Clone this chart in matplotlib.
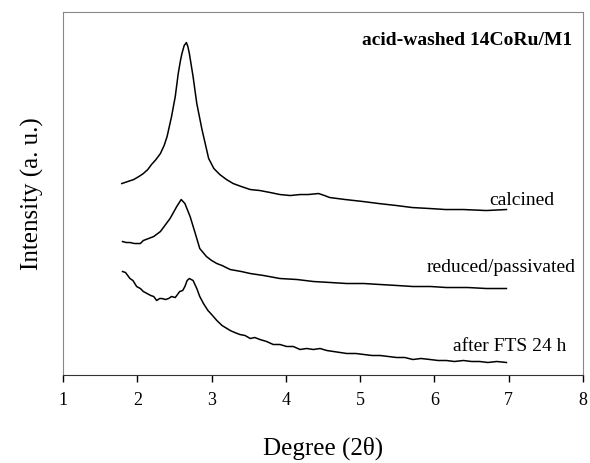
import numpy as np
import matplotlib
matplotlib.use('Agg')
import matplotlib.pyplot as plt

plt.rcParams['font.family'] = ['Liberation Serif', 'DejaVu Serif']

# XRD patterns (arbitrary intensity units)
calc_x = [1.79, 1.87, 1.95, 2.02, 2.08, 2.14, 2.19, 2.25, 2.31, 2.36, 2.40, 2.46,
          2.51, 2.55, 2.58, 2.60, 2.63, 2.66, 2.68, 2.70, 2.75, 2.80, 2.87, 2.96,
          3.03, 3.11, 3.20, 3.29, 3.40, 3.52, 3.65, 3.79, 3.92, 4.06, 4.19, 4.30,
          4.44, 4.52, 4.59, 4.80, 5.04, 5.25, 5.49, 5.70, 5.94, 6.15, 6.39, 6.70,
          6.97]
calc_y = [192, 194, 196, 199, 202, 206, 211, 216, 222, 230, 239, 259,
          279, 302, 315, 322, 330, 333, 329, 322, 299, 272, 246, 217,
          207, 201, 196, 192, 189, 186, 185, 183, 181, 180, 181, 181,
          182, 180, 178, 176, 174, 172, 170, 168, 167, 166, 166, 165,
          166]

red_x = [1.80, 1.85, 1.90, 1.96, 2.04, 2.08, 2.15, 2.22, 2.31, 2.37, 2.44, 2.53,
         2.59, 2.64, 2.71, 2.78, 2.84, 2.93, 3.00, 3.07, 3.14, 3.25, 3.40, 3.52,
         3.70, 3.92, 4.15, 4.37, 4.60, 4.82, 5.05, 5.27, 5.50, 5.71, 5.95, 6.16,
         6.45, 6.70, 6.97]
red_y = [134, 133, 133, 132, 132, 135, 137, 139, 144, 150, 157, 169,
         176, 172, 159, 142, 127, 119, 115, 112, 110, 106, 104, 102,
         100, 97, 96, 94, 93, 92, 92, 91, 90, 89, 89, 88,
         88, 87, 87]

fts_x = [1.80, 1.84, 1.90, 1.94, 1.99, 2.04, 2.08, 2.13, 2.18, 2.22, 2.26, 2.30,
         2.33, 2.38, 2.42, 2.46, 2.51, 2.57, 2.61, 2.64, 2.67, 2.70, 2.75, 2.80,
         2.84, 2.89, 2.95, 3.00, 3.07, 3.14, 3.25, 3.31, 3.38, 3.45, 3.52, 3.58,
         3.65, 3.74, 3.83, 3.92, 4.01, 4.10, 4.19, 4.28, 4.37, 4.46, 4.55, 4.64,
         4.73, 4.82, 4.94, 5.05, 5.16, 5.27, 5.38, 5.49, 5.60, 5.71, 5.82, 5.94,
         6.05, 6.16, 6.27, 6.39, 6.50, 6.61, 6.72, 6.84, 6.97]
fts_y = [104, 103, 97, 95, 89, 87, 84, 82, 80, 79, 75, 77,
         77, 76, 77, 79, 78, 84, 85, 89, 95, 97, 95, 87,
         79, 72, 65, 61, 55, 50, 45, 43, 41, 40, 37, 38,
         36, 34, 31, 31, 29, 29, 26, 27, 26, 27, 25, 24,
         23, 22, 22, 21, 20, 20, 19, 18, 18, 16, 17, 16,
         15, 15, 14, 15, 14, 14, 13, 14, 13]

labels = ['calcined', 'reduced/passivated', 'after FTS 24 h']
label_pos = [(7.62, 171), (7.90, 104), (7.78, 24)]

fig = plt.figure(figsize=(5.9, 4.63), dpi=100)
ax = fig.add_axes([0.107, 0.189, 0.881, 0.786])

for xs, ys in [(calc_x, calc_y), (red_x, red_y), (fts_x, fts_y)]:
    ax.plot(xs, ys, color='black', lw=1.1)

for lab, (lx, ly) in zip(labels, label_pos):
    ax.text(lx, ly, lab, ha='right', va='baseline', fontsize=14)

ax.text(7.85, 331, 'acid-washed 14CoRu/M1', ha='right', va='baseline',
        fontsize=14, fontweight='bold')

ax.set_xlim(1, 8)
ax.set_ylim(0, 364)
ax.set_xticks(range(1, 9))
ax.set_yticks([])
ax.tick_params(axis='x', direction='out', length=5, width=1, pad=7, labelsize=13)
for s in ['top', 'left', 'right']:
    ax.spines[s].set_color('#888888')
ax.spines['bottom'].set_color('#333333')

ax.set_xlabel('Degree (2\u03b8)', fontsize=18, labelpad=20)
ax.set_ylabel('Intensity (a. u.)', fontsize=18, labelpad=14)

fig.savefig('out.png', dpi=100)
